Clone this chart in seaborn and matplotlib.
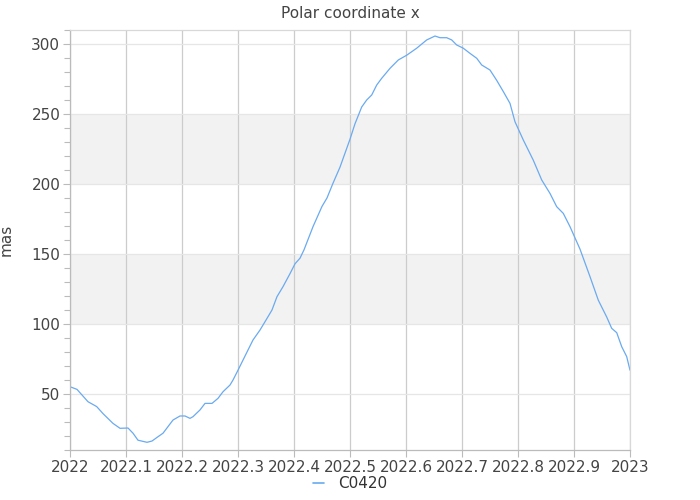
import matplotlib
matplotlib.use('Agg')
import matplotlib.pyplot as plt
import matplotlib.ticker as mticker
import pandas as pd
import seaborn as sns

# epoch (decimal year) and polar coordinate x (mas)
epoch = [2022.0000, 2022.0125, 2022.0321, 2022.0477, 2022.0589, 2022.0768, 2022.0893,
         2022.1036, 2022.1125, 2022.1214, 2022.1375, 2022.1464, 2022.1554, 2022.1661,
         2022.1839, 2022.1964, 2022.2054, 2022.2143, 2022.2196, 2022.2321, 2022.2411,
         2022.2536, 2022.2643, 2022.2732, 2022.2857, 2022.2911, 2022.3000, 2022.3161,
         2022.3268, 2022.3393, 2022.3482, 2022.3607, 2022.3696, 2022.3804, 2022.3929,
         2022.4018, 2022.4107, 2022.4179, 2022.4339, 2022.4500, 2022.4589, 2022.4696,
         2022.4821, 2022.5000, 2022.5089, 2022.5209, 2022.5298, 2022.5388, 2022.5477,
         2022.5566, 2022.5714, 2022.5863, 2022.6013, 2022.6191, 2022.6370, 2022.6518,
         2022.6607, 2022.6727, 2022.6816, 2022.6905, 2022.7023, 2022.7143, 2022.7263,
         2022.7352, 2022.7500, 2022.7620, 2022.7738, 2022.7857, 2022.7946, 2022.8095,
         2022.8273, 2022.8423, 2022.8571, 2022.8691, 2022.8809, 2022.8929, 2022.9107,
         2022.9286, 2022.9434, 2022.9584, 2022.9673, 2022.9763, 2022.9852, 2022.9941,
         2023.0000]
polar_x = [55.2, 53.3, 44.5, 41.0, 36.0, 29.0, 25.5,
           25.7, 22.0, 17.0, 15.5, 16.4, 19.0, 22.0,
           31.4, 34.3, 34.3, 32.6, 33.8, 38.6, 43.3,
           43.3, 46.9, 51.6, 56.4, 60.0, 67.0, 80.0,
           88.6, 95.7, 101.6, 110.0, 119.5, 126.7, 136.0,
           143.0, 147.0, 153.0, 169.5, 184.0, 190.0, 200.5,
           212.0, 232.0, 243.0, 255.0, 260.0, 263.6, 270.7,
           275.5, 282.6, 288.6, 292.0, 297.0, 302.9, 305.7,
           304.5, 304.5, 302.9, 299.3, 297.0, 293.3, 289.8,
           285.0, 281.4, 274.0, 266.0, 257.6, 244.5, 231.4,
           217.0, 202.9, 193.3, 183.8, 179.0, 169.5, 153.5,
           133.8, 117.0, 105.0, 96.9, 93.8, 83.8, 76.7,
           67.0]
series_name = "C0420"

df = pd.DataFrame({"epoch": epoch, "value": polar_x, "star": series_name})

sns.set_theme(style="white")
plt.rcParams['font.family'] = ['DejaVu Sans']

fig = plt.figure(figsize=(7, 5), dpi=100)
ax = fig.add_axes([0.1, 0.1, 0.8, 0.84])

line_col = "#6aaaf0"
sns.lineplot(data=df, x="epoch", y="value", hue="star", palette=[line_col],
             linewidth=0.9, ax=ax, legend=False)

ax.set_xlim(2022, 2023)
ax.set_ylim(10, 310)

# alternating grey bands
for lo, hi in [(100, 150), (200, 250)]:
    ax.axhspan(lo, hi, color="#f2f2f2", zorder=0, lw=0)

ax.xaxis.set_major_locator(mticker.MultipleLocator(0.1))
ax.xaxis.set_major_formatter(mticker.FuncFormatter(lambda v, p: f"{v:.1f}".rstrip("0").rstrip(".")))
ax.yaxis.set_major_locator(mticker.MultipleLocator(50))
ax.yaxis.set_minor_locator(mticker.MultipleLocator(10))

ax.grid(axis="x", color="#cccccc", lw=0.9)
ax.grid(axis="y", color="#e6e6e6", lw=0.9)
ax.set_axisbelow(True)

for s in ax.spines.values():
    s.set_color("#d8d8d8")
    s.set_linewidth(0.9)
ax.spines["left"].set_color("#bbbbbb")
ax.spines["bottom"].set_color("#bbbbbb")

ax.tick_params(axis="both", which="major", labelsize=11, labelcolor="#444444",
               color="#bbbbbb", length=5, width=0.8, direction="out", pad=2)
ax.tick_params(axis="y", which="minor", left=True, color="#bbbbbb", length=4, width=0.8)
ax.tick_params(axis="x", bottom=True)
ax.tick_params(axis="y", left=True)

ax.set_xlabel("")
ax.set_ylabel("mas", fontsize=11, color="#444444")
ax.yaxis.set_label_coords(-0.1, 0.5)
ax.set_title("Polar coordinate x", fontsize=11, color="#444444", pad=9)

handle = plt.Line2D([], [], color=line_col, lw=1.2)
fig.legend([handle], [series_name], loc="lower center", bbox_to_anchor=(0.5, -0.01),
           frameon=False, fontsize=11, handlelength=0.7, handletextpad=0.9,
           labelcolor="#333333")

fig.savefig("out.png", dpi=100)
